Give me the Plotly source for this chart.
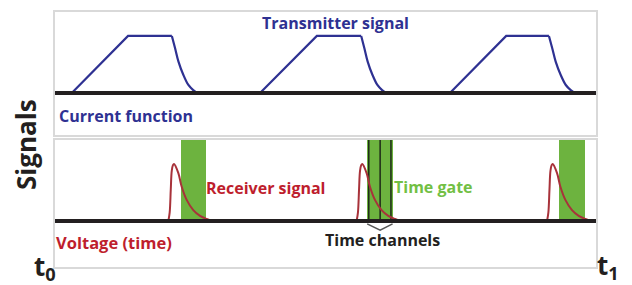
import plotly.graph_objects as go
from plotly.subplots import make_subplots

W, H = 632, 285

# ---------------- data (time in arbitrary units, t0 = 0 ... t1 = 100) -------------
# transmitter (current) waveform: three trapezoidal pulses
ramp_start = [3.1, 37.9, 73.0]
ramp_top = [13.5, 48.4, 83.4]
off_start = [21.6, 56.6, 91.3]
off_end = [26.3, 61.2, 96.1]
# shape of the turn-off ramp (fraction of ramp duration, relative amplitude)
fall_frac = [0.0, 0.13, 0.26, 0.45, 0.65, 0.84, 1.0]
fall_amp = [1.0, 0.78, 0.55, 0.32, 0.14, 0.05, 0.0]

# receiver (voltage) transients
pulse_peak = [22.0, 56.8, 92.0]
pulse_dt = [-1.05, -0.8, -0.6, -0.42, -0.2, 0.0, 0.8, 1.42, 2.34, 3.56, 4.81, 6.05, 7.2]
pulse_amp = [0.0, 0.15, 0.55, 0.88, 0.98, 1.0, 0.84, 0.6, 0.37, 0.19, 0.09, 0.035, 0.0]

# time gates and time channels
gate_start = [23.2, 57.7, 93.2]
gate_end = [27.9, 62.5, 97.9]
channel_times = [58.0, 60.1, 62.1]
brace_depth = -0.16

labels = {
    "tx": "Transmitter signal",
    "cur": "Current function",
    "rx": "Receiver signal",
    "gate": "Time gate",
    "volt": "Voltage (time)",
    "chan": "Time channels",
    "ylab": "Signals",
}

# ---------------- styling --------------------------------------------------------
BLUE = "#2e3192"
RED = "#be1e2d"
PULSE = "#a8323a"
GREEN = "#6db33f"
DARK = "#231f20"
FRAME = "#d9d9d9"
FONT = "Open Sans"

X_RANGE = [0, 100]
Y_TOP = [-0.737, 1.42]
Y_BOT = [-0.807, 1.42]


def px(x):
    return x / W


def py(y):
    return 1 - y / H


fig = make_subplots(rows=2, cols=1)

# top panel: trapezoids (linear rise + flat top, smooth turn-off)
for s, t, o, e in zip(ramp_start, ramp_top, off_start, off_end):
    fig.add_trace(go.Scatter(x=[s, t, o], y=[0, 1, 1], mode="lines",
                             line=dict(color=BLUE, width=2.2),
                             hoverinfo="skip", showlegend=False), row=1, col=1)
    fig.add_trace(go.Scatter(x=[o + f * (e - o) for f in fall_frac], y=fall_amp,
                             mode="lines",
                             line=dict(color=BLUE, width=2.2, shape="spline"),
                             hoverinfo="skip", showlegend=False), row=1, col=1)
fig.add_trace(go.Scatter(x=X_RANGE, y=[0, 0], mode="lines",
                         line=dict(color=DARK, width=4),
                         hoverinfo="skip", showlegend=False), row=1, col=1)

# bottom panel: gates as bars
fig.add_trace(go.Bar(x=[(a + b) / 2 for a, b in zip(gate_start, gate_end)],
                     y=[Y_BOT[1]] * len(gate_start),
                     width=[b - a for a, b in zip(gate_start, gate_end)],
                     marker=dict(color=GREEN, line=dict(width=0)),
                     hoverinfo="skip", showlegend=False), row=2, col=1)
# time channel lines
for c in channel_times:
    fig.add_trace(go.Scatter(x=[c, c], y=[0, Y_BOT[1]], mode="lines",
                             line=dict(color="#1e2a17", width=1.5),
                             hoverinfo="skip", showlegend=False), row=2, col=1)
# receiver pulses
for p in pulse_peak:
    fig.add_trace(go.Scatter(x=[p + d for d in pulse_dt], y=pulse_amp, mode="lines",
                             line=dict(color=PULSE, width=2, shape="spline"),
                             hoverinfo="skip", showlegend=False), row=2, col=1)
fig.add_trace(go.Scatter(x=X_RANGE, y=[0, 0], mode="lines",
                         line=dict(color=DARK, width=4),
                         hoverinfo="skip", showlegend=False), row=2, col=1)
# brace under time channels
fig.add_trace(go.Scatter(x=[channel_times[0] - 0.3, channel_times[1], channel_times[2] + 0.3],
                         y=[-0.05, brace_depth, -0.05], mode="lines",
                         line=dict(color="#555555", width=1.5),
                         hoverinfo="skip", showlegend=False), row=2, col=1)

x_dom = [px(55), px(596)]
axis_common = dict(showgrid=False, zeroline=False, showticklabels=False, ticks="",
                   showline=True, linecolor=FRAME, linewidth=2, mirror=True, fixedrange=True)
fig.update_layout(
    xaxis=dict(domain=x_dom, range=X_RANGE, **axis_common),
    xaxis2=dict(domain=x_dom, range=X_RANGE, **axis_common),
    yaxis=dict(domain=[py(135), py(12)], range=Y_TOP, **axis_common),
    yaxis2=dict(domain=[py(267), py(140)], range=Y_BOT, **axis_common),
    width=W, height=H, margin=dict(l=0, r=0, t=0, b=0),
    paper_bgcolor="white", plot_bgcolor="white", bargap=0,
    showlegend=False,
)


def ann(text, x, y, color, size=16, xanchor="left", angle=0):
    fig.add_annotation(text=text, x=px(x), y=py(y), xref="paper", yref="paper",
                       xanchor=xanchor, yanchor="middle", showarrow=False,
                       textangle=angle,
                       font=dict(family=FONT, size=size, color=color, weight="bold"))


ann(labels["tx"], 336, 23, BLUE, xanchor="center")
ann(labels["cur"], 57, 116, BLUE)
ann(labels["rx"], 204, 188, RED)
ann(labels["gate"], 392, 187, "#72bf44")
ann(labels["volt"], 54, 242, RED, size=16.5)
ann(labels["chan"], 323, 240, DARK)
ann(labels["ylab"], 26, 145, DARK, size=26, xanchor="center", angle=-90)
ann("t<sub>0</sub>", 32, 267, DARK, size=26)
ann("t<sub>1</sub>", 595, 266, DARK, size=26)

fig.write_html("out.html", config={"displayModeBar": False},
               post_script="document.body.style.margin='0';")
